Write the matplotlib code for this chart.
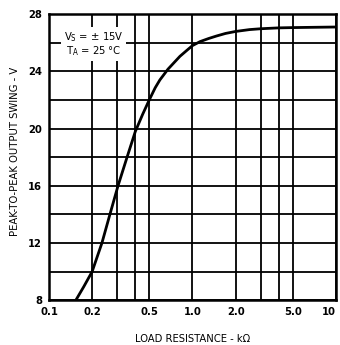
import matplotlib
matplotlib.use("Agg")
import matplotlib.pyplot as plt
from matplotlib.ticker import FixedLocator, NullLocator

plt.rcParams['font.family'] = ['DejaVu Sans']
plt.rcParams['font.stretch'] = 'condensed'

# curve
load_k = [0.154, 0.175, 0.2, 0.234, 0.266, 0.303, 0.349, 0.40, 0.45, 0.50, 0.55,
          0.593, 0.675, 0.818, 0.91, 1.0, 1.13, 1.3, 1.47, 1.7, 2.0, 2.5, 3.0,
          4.0, 5.0, 7.0, 10.0]
swing = [8.0, 8.95, 10.0, 12.0, 14.0, 16.0, 17.95, 19.8, 21.0, 22.0, 22.85,
         23.4, 24.15, 25.05, 25.45, 25.8, 26.08, 26.3, 26.47, 26.65, 26.79,
         26.92, 26.98, 27.04, 27.06, 27.08, 27.1]

x_grid = [0.1, 0.2, 0.3, 0.4, 0.5, 1.0, 2.0, 3.0, 4.0, 5.0, 10.0]
x_ticks = [0.1, 0.2, 0.5, 1.0, 2.0, 5.0, 10.0]
x_labels = ['0.1', '0.2', '0.5', '1.0', '2.0', '5.0', '10']
y_grid = [8, 10, 12, 14, 16, 18, 20, 22, 24, 26, 28]
y_ticks = [8, 12, 16, 20, 24, 28]

fig = plt.figure(figsize=(3.4, 3.45), dpi=100)
ax = fig.add_axes([0.144, 0.130, 0.844, 0.829])

for g in x_grid:
    ax.axvline(g, color='black', lw=1.3, zorder=1)
for g in y_grid:
    ax.axhline(g, color='black', lw=1.3, zorder=1)

ax.plot(load_k, swing, color='black', lw=2.0, zorder=3,
        solid_joinstyle='round', solid_capstyle='round')

ax.set_xscale('log')
ax.set_xlim(0.1, 10)
ax.set_ylim(8, 28)
ax.xaxis.set_major_locator(FixedLocator(x_ticks))
ax.xaxis.set_minor_locator(NullLocator())
ax.set_xticklabels(x_labels)
ax.set_yticks(y_ticks)
ax.tick_params(length=0, labelsize=8, pad=5)
for lab in ax.get_xticklabels() + ax.get_yticklabels():
    lab.set_fontweight('bold')
# last x label sits flush with the right edge, as in the original
ax.get_xticklabels()[-1].set_horizontalalignment('right')
for s in ax.spines.values():
    s.set_linewidth(1.8)

ax.text(0.155, 0.895, '$\\mathregular{V_S}$ = ± 15V\n$\\mathregular{T_A}$ = 25 °C',
        transform=ax.transAxes, ha='center', va='center', fontsize=8,
        linespacing=1.1, zorder=4,
        bbox=dict(facecolor='white', edgecolor='none', pad=2))

ax.set_xlabel('LOAD RESISTANCE - kΩ', fontsize=8)
ax.set_ylabel('PEAK-TO-PEAK OUTPUT SWING - V', fontsize=8)
ax.xaxis.set_label_coords(0.5, -0.12)
ax.yaxis.set_label_coords(-0.1, 0.52)

fig.savefig('out.png', dpi=100)
